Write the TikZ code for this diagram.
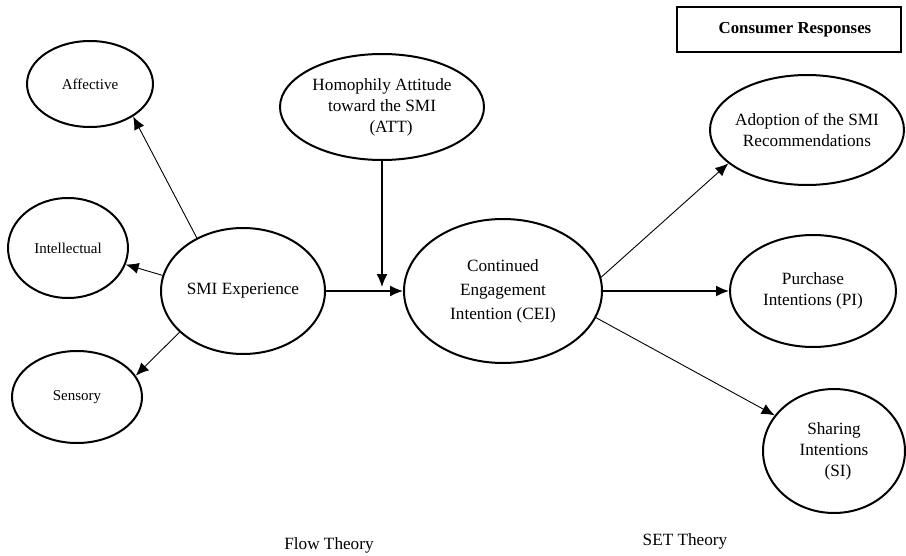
\documentclass[tikz,border=0pt]{standalone}
\usepackage{fontspec}
\setmainfont{Liberation Serif}
\usetikzlibrary{shapes.geometric,arrows.meta}

\begin{document}
\begin{tikzpicture}[x=0.5pt,y=-0.5pt,
    bubble/.style={ellipse,draw,line width=1pt,inner sep=0pt,align=center,
        font=\fontsize{8.6}{10.5}\selectfont},
    small/.style={bubble,font=\fontsize{7.5}{9}\selectfont},
    >={Latex[length=6.5pt,width=5.5pt]}, line width=0.45pt]
    \useasboundingbox (0,0) rectangle (906,556);

    % flow theory side
    \node[small,minimum width=63pt,minimum height=43pt] (aff) at (90,84) {Affective};
    \node[small,minimum width=60pt,minimum height=50pt] (intel) at (68,248) {Intellectual};
    \node[small,minimum width=65pt,minimum height=46pt] (sens) at (77,397) {Sensory};
    \node[bubble,minimum width=82pt,minimum height=63pt] (smi) at (243,291) {SMI Experience};
    \node[bubble,minimum width=102pt,minimum height=53pt] (homo) at (382,107)
        {Homophily Attitude\\toward the SMI\\\hspace*{9pt}(ATT)};
    \node[bubble,minimum width=99pt,minimum height=72pt,
        font=\fontsize{8.6}{12}\selectfont] (cei) at (503,291)
        {Continued\\Engagement\\Intention (CEI)};

    % consumer responses
    \node[draw,line width=1pt,minimum width=112pt,minimum height=22.5pt,
        font=\fontsize{8.4}{10}\selectfont\bfseries] (resp) at (789,29.5)
        {\hspace*{6pt}Consumer Responses};
    \node[bubble,minimum width=97pt,minimum height=55pt,inner xsep=-3pt] (adopt) at (807,130)
        {Adoption of the SMI\\Recommendations};
    \node[bubble,minimum width=83pt,minimum height=56pt] (purch) at (813,291)
        {Purchase\\Intentions (PI)};
    \node[bubble,minimum width=71pt,minimum height=62pt] (share) at (834,451)
        {Sharing\\Intentions\\\hspace*{4pt}(SI)};

    \node[font=\fontsize{8.6}{10.5}\selectfont] (flow) at (329,545) {Flow Theory};
    \node[font=\fontsize{8.6}{10.5}\selectfont] (set) at (685,541) {SET Theory};

    \coordinate (join) at (382,287);

    \path[->] (smi.131.6) edge (aff.-37.8)
              (smi.169.8) edge (intel.-16.2)
              (smi.213.7) edge (sens.20.8)
              (cei.8.1) edge (adopt.203.2)
              (cei.-16.4) edge (share.149.3);
    \path[->,line width=0.7pt] (smi) edge (cei)
              (homo) edge (join)
              (cei) edge (purch);
\end{tikzpicture}
\end{document}
